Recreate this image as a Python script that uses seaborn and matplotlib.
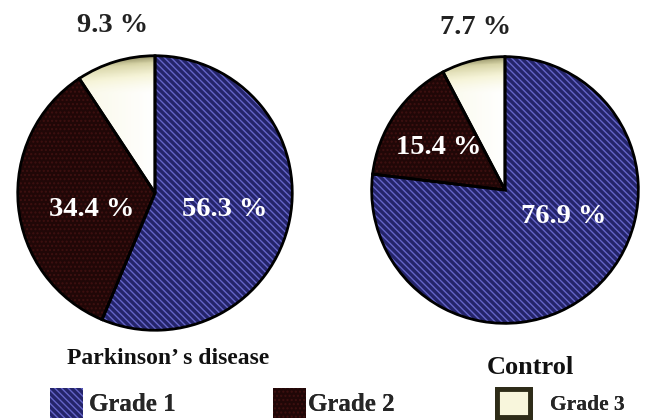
import numpy as np
import matplotlib
matplotlib.use("Agg")
import matplotlib.pyplot as plt
import seaborn as sns
from matplotlib.patches import Patch
from matplotlib.colors import LinearSegmentedColormap

# data
grades = ["Grade 1", "Grade 2", "Grade 3"]
parkinson = [56.3, 34.4, 9.3]
control = [76.9, 15.4, 7.7]
groups = ["Parkinson\u2019 s disease", "Control"]

sns.set_theme(style="white")
plt.rcParams["font.family"] = ["Liberation Serif", "DejaVu Serif"]
plt.rcParams["hatch.linewidth"] = 1.0

base = ["#24246a", "#200707", "#f6f4da"]
hatch_col = ["#6464c8", "#3e1010", "#f6f4da"]
hatches = ["\\\\\\\\\\", "....", ""]
cream = LinearSegmentedColormap.from_list("cream", ["#ffffff", "#f6f4d8", "#d8d5a8", "#77744a"])

fig = plt.figure(figsize=(6.48, 4.2), dpi=100)


def draw_pie(rect, values, label_pos, title, title_xy, title_size):
    ax = fig.add_axes(rect)
    w1, _ = ax.pie(values, colors=base, startangle=90, counterclock=False,
                   radius=1, wedgeprops=dict(lw=0))
    for w, h, hc in zip(w1, hatches, hatch_col):
        w.set_hatch(h)
        w.set_edgecolor(hc)
    # soft gradient inside the grade 3 wedge
    yy = np.linspace(-1, 1, 200)[:, None] * np.ones((1, 200))
    xx = np.abs(np.linspace(-1, 1, 200))[None, :]
    grad = np.clip(np.clip((yy - 0.72) / 0.28, 0, 1) ** 1.5 * 0.9 + xx * 0.35, 0, 1)
    im = ax.imshow(grad, extent=[-1, 1, -1, 1], origin="lower", cmap=cream,
                   vmin=0, vmax=1, zorder=1.5)
    im.set_clip_path(w1[2])
    ax.pie(values, colors=["none"] * 3, startangle=90, counterclock=False,
           radius=1, wedgeprops=dict(lw=2, edgecolor="black", zorder=3))
    for v, (x, y) in zip(values, label_pos):
        outside = y > 1.05
        ax.text(x, y, f"{v} %", ha="center", va="center", fontsize=20.5,
                fontweight="bold", color="#222222" if outside else "white", zorder=5)
    ax.set_xlim(-1.02, 1.02)
    ax.set_ylim(-1.02, 1.02)
    ax.set_aspect("equal")
    ax.axis("off")
    fig.text(title_xy[0], title_xy[1], title, ha="center", va="center",
             fontsize=title_size, fontweight="bold", color="#111111")


draw_pie([(155 - 140) / 648, 1 - (193 + 140) / 420, 280 / 648, 280 / 420],
         parkinson, [(0.51, -0.12), (-0.46, -0.12), (-0.31, 1.22)],
         groups[0], (168 / 648, 1 - 358 / 420), 17)
draw_pie([(505 - 136) / 648, 1 - (190 + 136) / 420, 272 / 648, 272 / 420],
         control, [(0.44, -0.20), (-0.50, 0.32), (-0.22, 1.22)],
         groups[1], (530 / 648, 1 - 367 / 420), 19)

handles = [
    Patch(facecolor=base[0], edgecolor=hatch_col[0], hatch=hatches[0], lw=0),
    Patch(facecolor=base[1], edgecolor=hatch_col[1], hatch=hatches[1], lw=0),
    Patch(facecolor="#f8f6dc", edgecolor="#2e2c18", lw=3.5),
]
leg_x = [50, 273, 497]
leg_size = [18, 18, 15.5]
leg_len = [1.32, 1.32, 1.55]
leg_h = [1.45, 1.45, 1.6]
leg_pad = [0.24, 0.1, 0.9]
for h, g, x, s, ln, hh, pd in zip(handles, grades, leg_x, leg_size, leg_len, leg_h, leg_pad):
    leg = fig.legend([h], [g], loc="center left", bbox_to_anchor=(x / 648, 1 - 403 / 420),
                     frameon=False, handlelength=ln, handleheight=hh,
                     handletextpad=pd, borderpad=0, borderaxespad=0,
                     prop=dict(family=["Liberation Serif"], weight="bold", size=s))
    fig.add_artist(leg)

fig.savefig("out.png", dpi=100, facecolor="white")
